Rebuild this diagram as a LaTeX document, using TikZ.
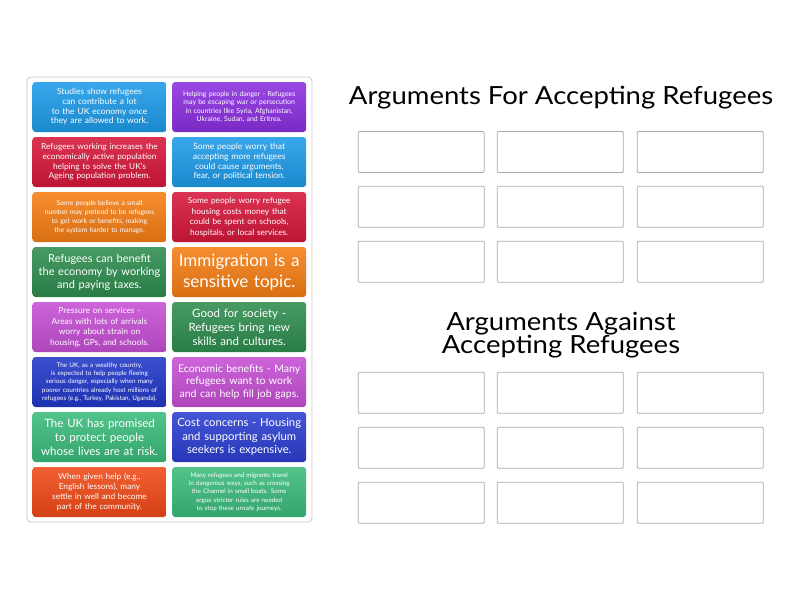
\documentclass[tikz,border=0pt]{standalone}
\usepackage{fontspec}
\setmainfont{Lato}
\newfontfamily\headfont{Lato}[FakeStretch=1.1]

\definecolor{cblue}{HTML}{1E9BE8}
\definecolor{cpurple}{HTML}{8C2FE0}
\definecolor{ccrimson}{HTML}{D6173A}
\definecolor{corange}{HTML}{F57E14}
\definecolor{cgreen}{HTML}{2E8D4E}
\definecolor{corchid}{HTML}{C64FD4}
\definecolor{cnavy}{HTML}{2138C8}
\definecolor{csea}{HTML}{3BBB7C}
\definecolor{croyal}{HTML}{2B3ED0}
\definecolor{cflame}{HTML}{F04916}
\definecolor{boxgray}{HTML}{ABABAB}
\definecolor{panelgray}{HTML}{C9C9C9}

\tikzset{
  card/.style={rectangle, rounded corners=3pt, minimum width=134pt, minimum height=50pt,
    text width=132pt, align=center, inner sep=0pt, text=white},
  tint/.style={top color=#1!88!white, bottom color=#1!88!black},
  fz/.style args={#1/#2}{font=\fontsize{#1}{#2}\selectfont},
  dropbox/.style={draw=boxgray, line width=0.8pt, rounded corners=1pt,
    minimum width=126pt, minimum height=41pt, inner sep=0pt},
  heading/.style={font=\headfont\fontsize{25}{23}\selectfont, align=center, inner sep=0pt}
}

\begin{document}
\begin{tikzpicture}[x=1pt, y=-1pt]
    \fill[white] (0,0) rectangle (800,600);
    \useasboundingbox (0,0) rectangle (800,600);

    % card panel
    \draw[panelgray, line width=0.8pt, rounded corners=4pt] (27,77) rectangle (312,522);

    \node[card, tint=cblue, fz=8.5/9.7] (c1) at (99.5,107) {Studies show refugees\\can contribute a lot\\to the UK economy once\\they are allowed to work.};
    \node[card, tint=cpurple, fz=6.9/8.3] (c2) at (239.2,107) {Helping people in danger - Refugees\\may be escaping war or persecution\\in countries like Syria, Afghanistan,\\Ukraine, Sudan, and Eritrea.};
    \node[card, tint=ccrimson, fz=8.3/9.7] (c3) at (99.5,162) {Refugees working increases the\\economically active population\\helping to solve the UK's\\Ageing population problem.};
    \node[card, tint=cblue, fz=8.5/9.7] (c4) at (239.2,162) {Some people worry that\\accepting more refugees\\could cause arguments,\\fear, or political tension.};
    \node[card, tint=corange, fz=6.8/9.2] (c5) at (99.5,217) {Some people believe a small\\number may pretend to be refugees\\to get work or benefits, making\\the system harder to manage.};
    \node[card, tint=ccrimson, fz=8.3/10.5] (c6) at (239.2,217) {Some people worry refugee\\housing costs money that\\could be spent on schools,\\hospitals, or local services.};
    \node[card, tint=cgreen, fz=11/13] (c7) at (99.5,272) {Refugees can benefit\\the economy by working\\and paying taxes.};
    \node[card, tint=corange, fz=17/21] (c8) at (239.2,272) {Immigration is a\\sensitive topic.};
    \node[card, tint=corchid, fz=8.4/10.5] (c9) at (99.5,327) {Pressure on services -\\Areas with lots of arrivals\\worry about strain on\\housing, GPs, and schools.};
    \node[card, tint=cgreen, fz=11.5/14] (c10) at (239.2,327) {Good for society -\\Refugees bring new\\skills and cultures.};
    \node[card, tint=cnavy, fz=6.4/8.3] (c11) at (99.5,382) {The UK, as a wealthy country,\\is expected to help people fleeing\\serious danger, especially when many\\poorer countries already host millions of\\refugees (e.g., Turkey, Pakistan, Uganda).};
    \node[card, tint=corchid, fz=10.5/12.7] (c12) at (239.2,382) {Economic benefits - Many\\refugees want to work\\and can help fill job gaps.};
    \node[card, tint=csea, fz=11.5/14] (c13) at (99.5,437) {The UK has promised\\to protect people\\whose lives are at risk.};
    \node[card, tint=croyal, fz=11.3/13.5] (c14) at (239.2,437) {Cost concerns - Housing\\and supporting asylum\\seekers is expensive.};
    \node[card, tint=cflame, fz=8.3/10.3] (c15) at (99.5,492) {When given help (e.g.,\\English lessons), many\\settle in well and become\\part of the community.};
    \node[card, tint=csea, fz=6.3/8.25] (c16) at (239.2,492) {Many refugees and migrants travel\\in dangerous ways, such as crossing\\the Channel in small boats. Some\\argue stricter rules are needed\\to stop these unsafe journeys.};

    % headings
    \node[heading] (hfor) at (561,98) {Arguments For Accepting Refugees};
    \node[heading] (hagainst) at (561,335) {Arguments Against\\Accepting Refugees};

    % empty answer boxes
    \foreach \i/\x in {1/421.3, 2/560.3, 3/700.3}{
      \foreach \j/\y in {1/152, 2/206.8, 3/261.7}
        \node[dropbox] (f\j\i) at (\x,\y) {};
      \foreach \j/\y in {1/392.8, 2/447.8, 3/502.7}
        \node[dropbox] (a\j\i) at (\x,\y) {};
    }

\end{tikzpicture}
\end{document}
